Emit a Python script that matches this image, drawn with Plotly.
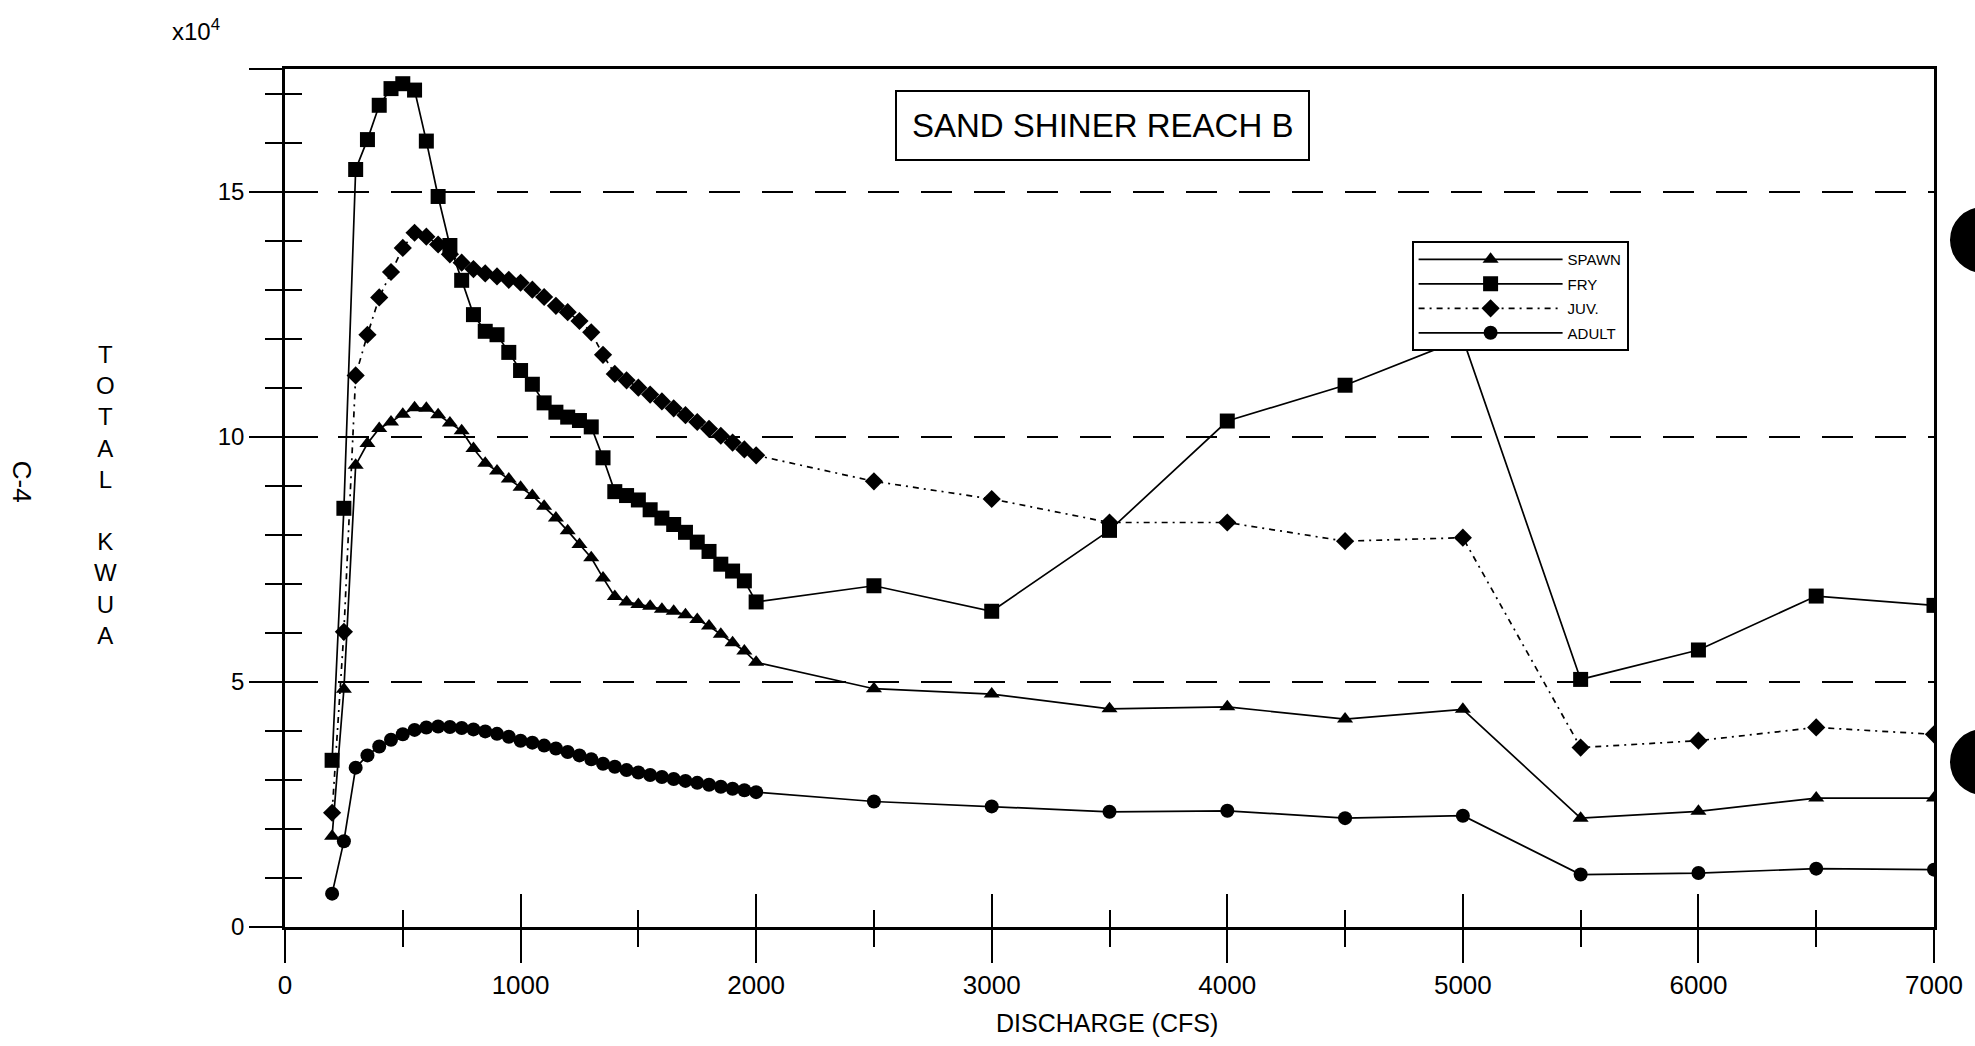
import plotly.graph_objects as go

# ---------------- data (KWUA in units of 10^4) ----------------
discharge = [200, 250, 300, 350, 400, 450, 500, 550, 600, 650, 700, 750, 800, 850, 900, 950,
             1000, 1050, 1100, 1150, 1200, 1250, 1300, 1350, 1400, 1450, 1500, 1550, 1600,
             1650, 1700, 1750, 1800, 1850, 1900, 1950, 2000,
             2500, 3000, 3500, 4000, 4500, 5000, 5500, 6000, 6500, 7000]

spawn = [1.85, 4.85, 9.42, 9.86, 10.17, 10.30, 10.46, 10.59, 10.58, 10.45, 10.28, 10.12, 9.76,
         9.46, 9.30, 9.14, 8.97, 8.80, 8.58, 8.34, 8.08, 7.80, 7.53, 7.12, 6.74, 6.63, 6.58,
         6.54, 6.48, 6.44, 6.37, 6.27, 6.14, 5.97, 5.80, 5.63, 5.40,
         4.86, 4.75, 4.45, 4.49, 4.24, 4.44, 2.22, 2.36, 2.63, 2.63]

fry = [3.40, 8.54, 15.45, 16.06, 16.76, 17.10, 17.20, 17.07, 16.03, 14.90, 13.90, 13.19, 12.49,
       12.15, 12.08, 11.72, 11.35, 11.07, 10.69, 10.50, 10.40, 10.33, 10.20, 9.57, 8.88, 8.80,
       8.71, 8.51, 8.34, 8.21, 8.05, 7.85, 7.66, 7.40, 7.26, 7.06, 6.63,
       6.96, 6.44, 8.09, 10.32, 11.05, 12.00, 5.05, 5.65, 6.75, 6.56]

juv = [2.33, 6.02, 11.25, 12.08, 12.84, 13.36, 13.85, 14.16, 14.08, 13.92, 13.72, 13.55, 13.42,
       13.33, 13.27, 13.20, 13.14, 13.00, 12.85, 12.67, 12.54, 12.36, 12.13, 11.67, 11.28, 11.15,
       11.00, 10.86, 10.72, 10.58, 10.44, 10.30, 10.16, 10.02, 9.88, 9.74, 9.62,
       9.09, 8.73, 8.25, 8.25, 7.87, 7.94, 3.66, 3.80, 4.07, 3.93]

adult = [0.68, 1.75, 3.25, 3.50, 3.68, 3.82, 3.93, 4.02, 4.07, 4.09, 4.08, 4.06, 4.03, 3.99,
         3.94, 3.88, 3.80, 3.76, 3.70, 3.64, 3.57, 3.50, 3.42, 3.33, 3.27, 3.20, 3.15, 3.10,
         3.06, 3.02, 2.98, 2.94, 2.90, 2.86, 2.82, 2.79, 2.75,
         2.56, 2.46, 2.35, 2.37, 2.22, 2.27, 1.07, 1.10, 1.19, 1.17]

x_ticks = [0, 1000, 2000, 3000, 4000, 5000, 6000, 7000]
y_ticks = [0, 5, 10, 15, 17.5]
y_tick_text = ["0", "5", "10", "15", " "]

FONT = "Liberation Sans, Arial, sans-serif"
INK = "#000000"

series = [
    ("SPAWN", spawn, "triangle-up", 14, "solid"),
    ("FRY", fry, "square", 15, "solid"),
    ("JUV.", juv, "diamond", 14, "6px,5px,2px,5px"),
    ("ADULT", adult, "circle", 14, "solid"),
]

fig = go.Figure()
for name, vals, sym, size, dash in series:
    fig.add_trace(go.Scatter(
        x=discharge, y=vals, name=name, legendgroup=name, mode="lines+markers",
        line=dict(color=INK, width=1.7, dash=dash),
        marker=dict(symbol=sym, size=size, color=INK, line=dict(width=0)),
    ))

# empty trace on the overlay axes (inside half of the crossing tick marks)
fig.add_trace(go.Scatter(x=[], y=[], xaxis="x2", yaxis="y2", showlegend=False,
                         hoverinfo="skip"))

fig.update_layout(
    width=1975, height=1046,
    margin=dict(l=285, r=39, t=69, b=119),
    paper_bgcolor="white", plot_bgcolor="white",
    font=dict(family=FONT, color=INK),
    showlegend=True,
    legend=dict(
        x=0.6832, y=0.7995, xanchor="left", yanchor="top",
        bgcolor="white", bordercolor=INK, borderwidth=2,
        font=dict(family=FONT, size=15, color=INK),
        tracegroupgap=2, itemwidth=144,
    ),
    xaxis=dict(
        range=[0, 7000], tickmode="array", tickvals=x_ticks,
        ticks="outside", ticklen=33, tickwidth=2, tickcolor=INK,
        minor=dict(dtick=500, tick0=0, ticks="outside", ticklen=17, tickwidth=2,
                   tickcolor=INK, showgrid=False),
        showline=True, linecolor=INK, linewidth=2.5, mirror=True,
        showgrid=False, zeroline=False,
        tickfont=dict(family=FONT, size=26, color=INK),
    ),
    yaxis=dict(
        range=[0, 17.5], tickmode="array", tickvals=y_ticks, ticktext=y_tick_text,
        ticks="outside", ticklen=33, tickwidth=2, tickcolor=INK,
        minor=dict(dtick=1, tick0=0, ticks="outside", ticklen=17, tickwidth=2,
                   tickcolor=INK, showgrid=False),
        showline=True, linecolor=INK, linewidth=2.5, mirror=True,
        showgrid=True, gridcolor=INK, gridwidth=2, griddash="31px,22px",
        zeroline=False, tickfont=dict(family=FONT, size=24, color=INK),
    ),
    xaxis2=dict(
        overlaying="x", anchor="y2", range=[0, 7000], tickmode="array", tickvals=x_ticks,
        ticks="inside", ticklen=33, tickwidth=2, tickcolor=INK,
        minor=dict(dtick=500, tick0=0, ticks="inside", ticklen=17, tickwidth=2,
                   tickcolor=INK, showgrid=False),
        showticklabels=False, showline=False, showgrid=False, zeroline=False,
    ),
    yaxis2=dict(
        overlaying="y", anchor="x2", range=[0, 17.5], tickmode="array", tickvals=y_ticks[:4],
        ticks="inside", ticklen=33, tickwidth=2, tickcolor=INK,
        minor=dict(dtick=1, tick0=0, ticks="inside", ticklen=17, tickwidth=2,
                   tickcolor=INK, showgrid=False),
        showticklabels=False, showline=False, showgrid=False, zeroline=False,
    ),
)

annotations = [
    dict(text="SAND SHINER REACH B", x=0.496, y=0.9347, xref="paper", yref="paper",
         xanchor="center", yanchor="middle", showarrow=False,
         font=dict(family=FONT, size=33, color=INK),
         bordercolor=INK, borderwidth=2, borderpad=15, bgcolor="white"),
    dict(text="DISCHARGE (CFS)", x=0.4985, y=-0.1119, xref="paper", yref="paper",
         xanchor="center", yanchor="middle", showarrow=False,
         font=dict(family=FONT, size=25, color=INK)),
    dict(text="T<br>O<br>T<br>A<br>L<br>&#160;<br>K<br>W<br>U<br>A", x=-0.109, y=0.503,
         xref="paper", yref="paper", xanchor="center", yanchor="middle", showarrow=False,
         font=dict(family=FONT, size=24, color=INK)),
    dict(text="x10<sup>4</sup>", x=-0.0539, y=1.046, xref="paper", yref="paper",
         xanchor="center", yanchor="middle", showarrow=False,
         font=dict(family=FONT, size=24, color=INK)),
    dict(text="C-4", x=-0.1593, y=0.5186, xref="paper", yref="paper", textangle=90,
         xanchor="center", yanchor="middle", showarrow=False,
         font=dict(family=FONT, size=26, color=INK)),
]
fig.update_layout(annotations=annotations)

# binder holes at the right edge of the scanned page
fig.update_layout(shapes=[
    dict(type="circle", xref="paper", yref="paper", x0=1.0097, x1=1.0497,
         y0=0.7622, y1=0.8392, fillcolor=INK, line=dict(width=0)),
    dict(type="circle", xref="paper", yref="paper", x0=1.0097, x1=1.0497,
         y0=0.1538, y1=0.2308, fillcolor=INK, line=dict(width=0)),
])

fig.write_html("out.html", config={"displayModeBar": False},
               post_script="document.body.style.margin='0';document.body.style.overflow='hidden';")
